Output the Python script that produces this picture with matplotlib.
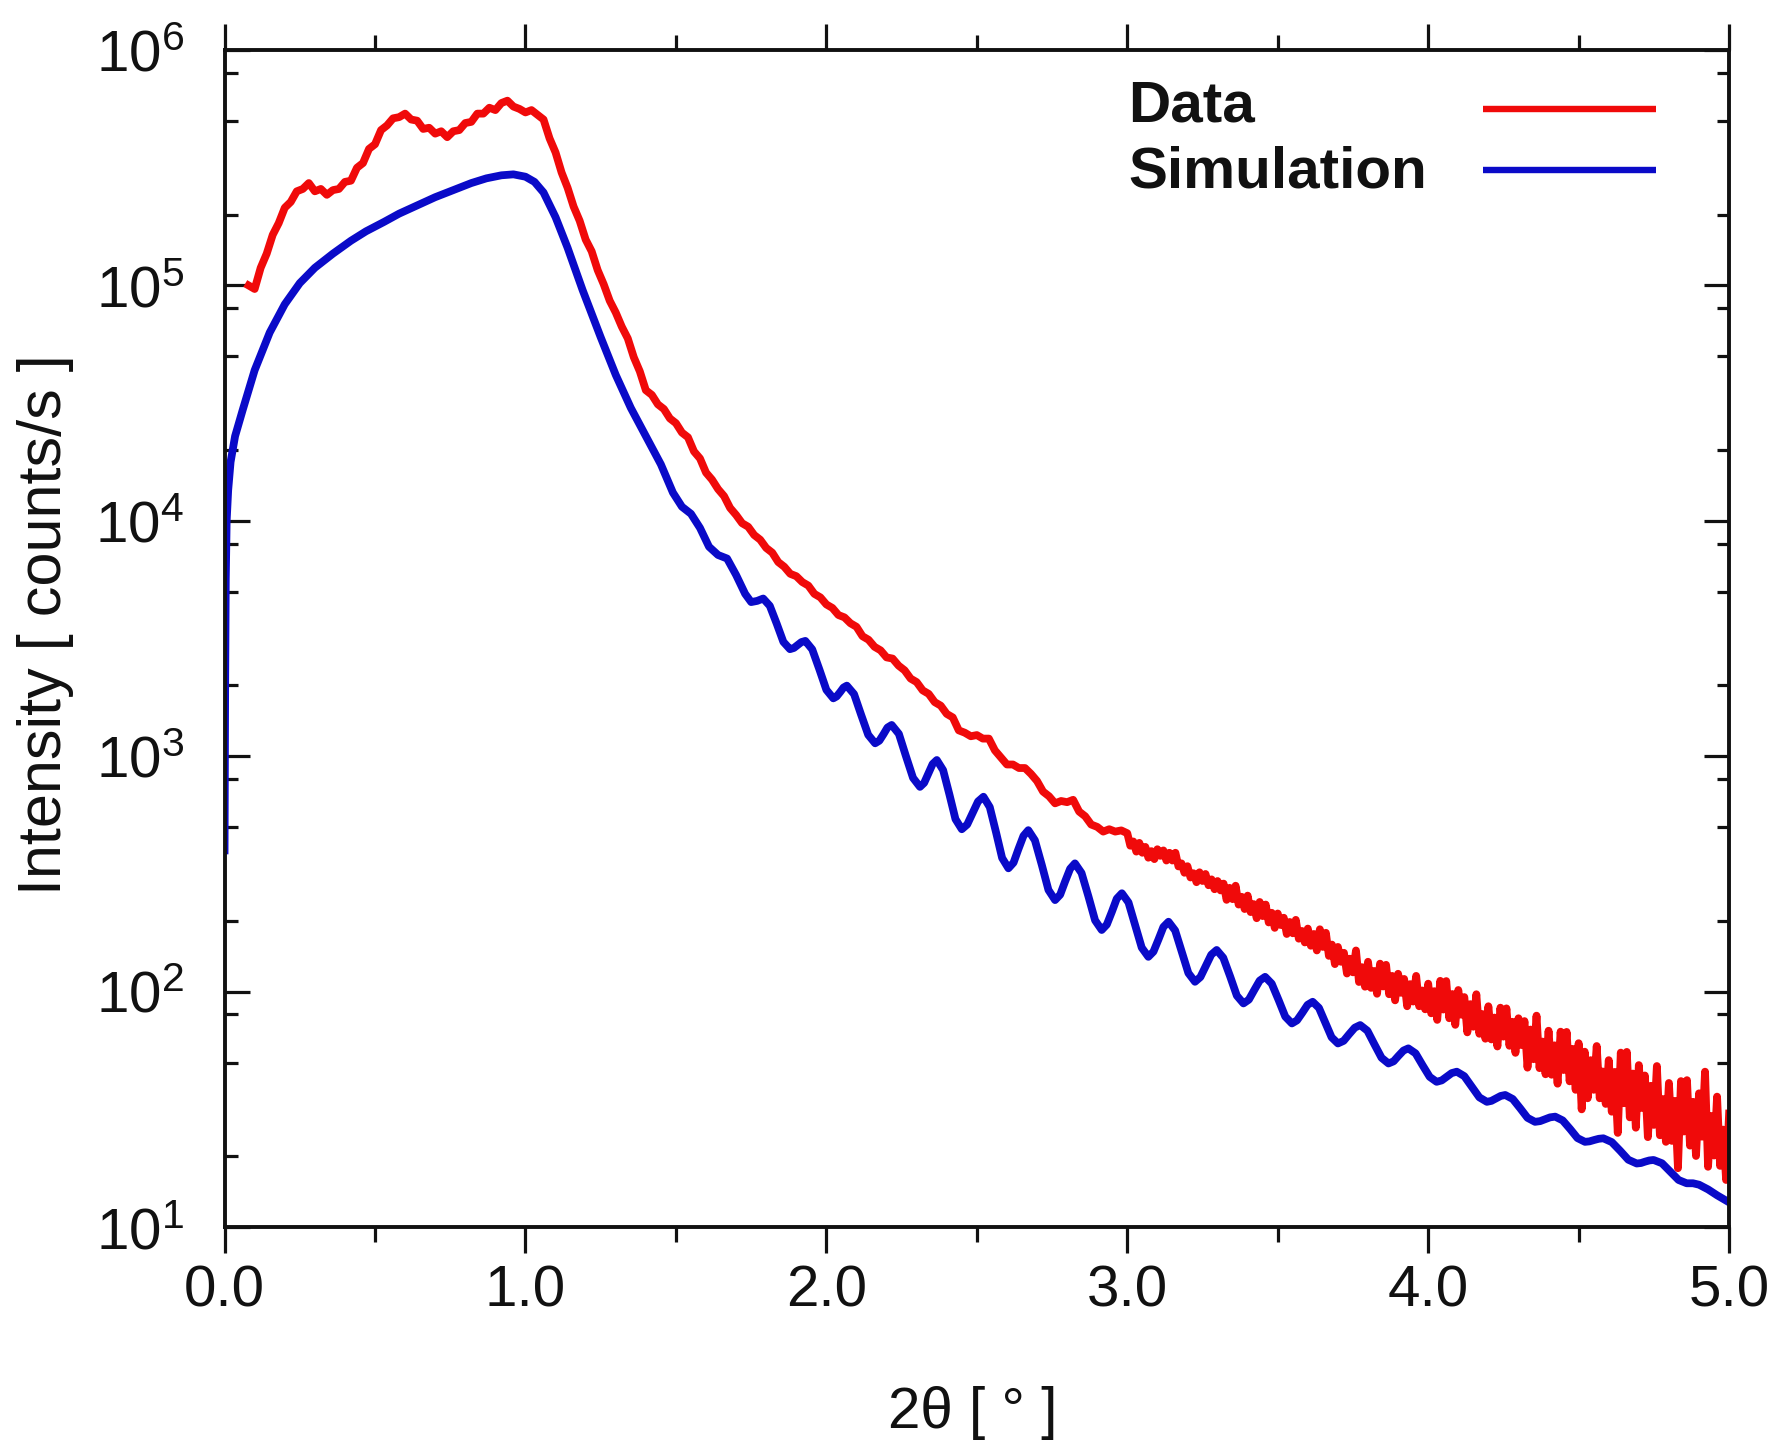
import numpy as np
import matplotlib
matplotlib.use("Agg")
import matplotlib.pyplot as plt
from matplotlib.ticker import FixedLocator, FixedFormatter, MultipleLocator, LogLocator, NullFormatter

plt.rcParams['font.family'] = ['Liberation Sans', 'DejaVu Sans']
plt.rcParams['mathtext.fontset'] = 'custom'
plt.rcParams['mathtext.rm'] = 'Liberation Sans'
plt.rcParams['mathtext.it'] = 'Liberation Sans:italic'
plt.rcParams['mathtext.bf'] = 'Liberation Sans:bold'

# ---------------- data ----------------
series_labels = ['Data', 'Simulation']
x_label = '2θ [ ° ]'
y_label = 'Intensity [ counts/s ]'
x_ticks = [0, 1, 2, 3, 4, 5]
x_tick_labels = ['0.0', '1.0', '2.0', '3.0', '4.0', '5.0']
y_ticks = [1e1, 1e2, 1e3, 1e4, 1e5, 1e6]
y_tick_labels = [r'$\mathregular{10^{1}}$', r'$\mathregular{10^{2}}$', r'$\mathregular{10^{3}}$',
                 r'$\mathregular{10^{4}}$', r'$\mathregular{10^{5}}$', r'$\mathregular{10^{6}}$']

# Simulation (blue), log10(counts/s)
sim_2theta = [
    0.000, 0.002, 0.004, 0.007, 0.012, 0.020, 0.035, 0.060, 0.100, 0.150,
    0.200, 0.250, 0.300, 0.360, 0.420, 0.470, 0.530, 0.580, 0.640, 0.700,
    0.760, 0.820, 0.870, 0.920, 0.960, 1.000, 1.030, 1.060, 1.100, 1.140,
    1.190, 1.250, 1.300, 1.350, 1.400, 1.450, 1.490, 1.520, 1.550, 1.580,
    1.610, 1.640, 1.670, 1.700, 1.730, 1.750, 1.770, 1.790,
    1.812, 1.835, 1.857, 1.879, 1.892, 1.905, 1.917, 1.930,
    1.953, 1.977, 2.000, 2.023, 2.034, 2.046, 2.057, 2.068,
    2.092, 2.115, 2.139, 2.162, 2.176, 2.190, 2.203, 2.217,
    2.241, 2.264, 2.288, 2.311, 2.325, 2.339, 2.353, 2.367,
    2.388, 2.409, 2.429, 2.450, 2.468, 2.486, 2.504, 2.522,
    2.543, 2.564, 2.584, 2.605, 2.622, 2.638, 2.655, 2.671,
    2.693, 2.716, 2.738, 2.760, 2.777, 2.793, 2.810, 2.826,
    2.848, 2.871, 2.893, 2.915, 2.932, 2.949, 2.965, 2.982,
    3.004, 3.026, 3.048, 3.070, 3.087, 3.104, 3.120, 3.137,
    3.159, 3.181, 3.203, 3.225, 3.243, 3.261, 3.279, 3.297,
    3.319, 3.342, 3.364, 3.386, 3.404, 3.422, 3.440, 3.458,
    3.480, 3.503, 3.525, 3.547, 3.564, 3.582, 3.599, 3.616,
    3.637, 3.658, 3.679, 3.700, 3.719, 3.737, 3.756, 3.774,
    3.798, 3.821, 3.845, 3.868, 3.885, 3.901, 3.918, 3.934,
    3.958, 3.981, 4.005, 4.028, 4.045, 4.062, 4.078, 4.095,
    4.120, 4.145, 4.170, 4.195, 4.210, 4.226, 4.241, 4.256,
    4.281, 4.306, 4.330, 4.355, 4.372, 4.389, 4.405, 4.422,
    4.447, 4.472, 4.496, 4.521, 4.536, 4.552, 4.567, 4.582,
    4.610, 4.638, 4.665, 4.693, 4.707, 4.721, 4.735, 4.749,
    4.777, 4.804, 4.832, 4.859, 4.880, 4.900, 4.930, 4.960, 5.000]
sim_log10 = [
    2.60, 3.30, 3.75, 4.00, 4.13, 4.25, 4.36, 4.47, 4.64, 4.80,
    4.92, 5.01, 5.075, 5.135, 5.19, 5.23, 5.27, 5.305, 5.34, 5.375,
    5.405, 5.435, 5.455, 5.468, 5.472, 5.462, 5.44, 5.395, 5.29, 5.16,
    4.98, 4.78, 4.62, 4.48, 4.36, 4.24, 4.12, 4.06, 4.03, 3.97,
    3.89, 3.855, 3.84, 3.77, 3.69, 3.655, 3.66, 3.67,
    3.639, 3.563, 3.486, 3.455, 3.460, 3.473, 3.485, 3.490,
    3.454, 3.368, 3.282, 3.246, 3.254, 3.273, 3.292, 3.300,
    3.264, 3.178, 3.091, 3.055, 3.066, 3.094, 3.122, 3.133,
    3.095, 3.002, 2.908, 2.870, 2.887, 2.927, 2.967, 2.984,
    2.941, 2.837, 2.733, 2.690, 2.710, 2.759, 2.808, 2.828,
    2.784, 2.676, 2.568, 2.524, 2.548, 2.605, 2.662, 2.686,
    2.643, 2.538, 2.432, 2.389, 2.412, 2.467, 2.522, 2.545,
    2.504, 2.404, 2.303, 2.262, 2.285, 2.340, 2.395, 2.418,
    2.379, 2.283, 2.187, 2.148, 2.170, 2.223, 2.275, 2.297,
    2.260, 2.170, 2.079, 2.042, 2.062, 2.110, 2.157, 2.177,
    2.144, 2.064, 1.983, 1.950, 1.966, 2.007, 2.047, 2.063,
    2.034, 1.964, 1.894, 1.865, 1.878, 1.911, 1.944, 1.957,
    1.931, 1.869, 1.806, 1.780, 1.791, 1.819, 1.847, 1.858,
    1.834, 1.777, 1.719, 1.695, 1.704, 1.727, 1.750, 1.759,
    1.738, 1.688, 1.638, 1.617, 1.623, 1.639, 1.654, 1.660,
    1.641, 1.596, 1.551, 1.532, 1.536, 1.547, 1.557, 1.561,
    1.544, 1.504, 1.464, 1.447, 1.450, 1.458, 1.466, 1.469,
    1.453, 1.416, 1.378, 1.362, 1.364, 1.370, 1.375, 1.377,
    1.361, 1.324, 1.286, 1.270, 1.272, 1.278, 1.283, 1.285,
    1.271, 1.236, 1.200, 1.186, 1.186, 1.180, 1.160, 1.135, 1.105]

# Measured data (red), log10(counts/s); scan steps 0.02 deg up to 2.98, 0.01 deg beyond
data_2theta_coarse = np.round(np.arange(0.08, 2.9801, 0.02), 2)
data_log10_coarse = [
    5.00, 4.985, 5.075, 5.135, 5.215, 5.265, 5.33, 5.355, 5.40, 5.41,
    5.435, 5.40, 5.41, 5.385, 5.405, 5.41, 5.44, 5.445, 5.50, 5.52,
    5.58, 5.60, 5.66, 5.68, 5.71, 5.715, 5.73, 5.705, 5.70, 5.665,
    5.67, 5.645, 5.655, 5.63, 5.655, 5.66, 5.69, 5.695, 5.73, 5.73,
    5.755, 5.745, 5.775, 5.785, 5.76, 5.75, 5.735, 5.745, 5.725, 5.705,
    5.625, 5.565, 5.48, 5.415, 5.335, 5.275, 5.195, 5.145, 5.065, 5.005,
    4.935, 4.885, 4.825, 4.775, 4.695, 4.635, 4.555, 4.535, 4.495, 4.475,
    4.435, 4.415, 4.375, 4.355, 4.295, 4.265, 4.205, 4.175, 4.135, 4.105,
    4.055, 4.025, 3.99, 3.975, 3.94, 3.92, 3.885, 3.865, 3.825, 3.805,
    3.775, 3.765, 3.74, 3.725, 3.69, 3.675, 3.645, 3.63, 3.60, 3.59,
    3.565, 3.55, 3.51, 3.495, 3.465, 3.45, 3.42, 3.415, 3.385, 3.365,
    3.33, 3.315, 3.28, 3.265, 3.23, 3.215, 3.18, 3.165, 3.11, 3.10,
    3.085, 3.09, 3.075, 3.075, 3.025, 2.995, 2.965, 2.965, 2.95, 2.95,
    2.925, 2.895, 2.85, 2.83, 2.80, 2.81, 2.805, 2.815, 2.765, 2.745,
    2.71, 2.70, 2.68, 2.69, 2.68, 2.685]
data_2theta_fine = np.round(np.arange(3.00, 5.0001, 0.01), 2)
data_log10_fine = [
    2.673, 2.62, 2.638, 2.595, 2.632, 2.59, 2.615, 2.569, 2.597, 2.563,
    2.605, 2.577, 2.60, 2.557, 2.59, 2.557, 2.59, 2.532, 2.545, 2.505,
    2.533, 2.485, 2.503, 2.465, 2.507, 2.47, 2.50, 2.452, 2.477, 2.435,
    2.47, 2.43, 2.459, 2.39, 2.441, 2.393, 2.45, 2.37, 2.403, 2.351,
    2.408, 2.338, 2.372, 2.312, 2.381, 2.321, 2.37, 2.294, 2.335, 2.271,
    2.332, 2.283, 2.314, 2.245, 2.296, 2.248, 2.305, 2.225, 2.258, 2.209,
    2.268, 2.195, 2.245, 2.175, 2.265, 2.19, 2.25, 2.152, 2.20, 2.117,
    2.19, 2.127, 2.165, 2.077, 2.14, 2.082, 2.175, 2.041, 2.104, 2.021,
    2.127, 2.016, 2.088, 1.991, 2.119, 2.022, 2.114, 1.989, 2.067, 1.963,
    2.076, 1.995, 2.054, 1.938, 2.032, 1.958, 2.067, 1.938, 2.005, 1.925,
    2.034, 1.908, 2.002, 1.88, 2.046, 1.924, 2.045, 1.887, 1.99, 1.859,
    2.007, 1.902, 1.977, 1.827, 1.947, 1.851, 1.989, 1.821, 1.905, 1.80,
    1.938, 1.797, 1.89, 1.767, 1.932, 1.809, 1.929, 1.77, 1.872, 1.74,
    1.887, 1.773, 1.875, 1.677, 1.839, 1.713, 1.898, 1.675, 1.788, 1.649,
    1.834, 1.647, 1.772, 1.609, 1.83, 1.667, 1.829, 1.619, 1.757, 1.583,
    1.781, 1.50, 1.745, 1.547, 1.709, 1.583, 1.769, 1.547, 1.661, 1.523,
    1.709, 1.49, 1.659, 1.40, 1.741, 1.526, 1.744, 1.466, 1.652, 1.422,
    1.688, 1.506, 1.644, 1.382, 1.60, 1.434, 1.684, 1.39, 1.544, 1.362,
    1.612, 1.366, 1.536, 1.25, 1.62, 1.406, 1.624, 1.346, 1.532, 1.302,
    1.568, 1.384, 1.66, 1.256, 1.472, 1.304, 1.554, 1.26, 1.414, 1.20,
    1.482]

# ---------------- plot ----------------
RED = '#f00a0a'
BLUE = '#0a0ac8'
FS = 42
LW = 5.6

fig = plt.figure(figsize=(17.78, 14.47), dpi=100)
ax = fig.add_axes([0.1263, 0.152, 0.8462, 0.8134])

data_x = np.concatenate([data_2theta_coarse, data_2theta_fine])
data_y = 10 ** np.concatenate([data_log10_coarse, data_log10_fine])
sim_y = 10 ** np.array(sim_log10)

ax.plot(sim_2theta, sim_y, color=BLUE, lw=LW, solid_joinstyle='round', zorder=3)
ax.plot(data_x, data_y, color=RED, lw=LW, solid_joinstyle='round', zorder=4)

ax.set_yscale('log')
ax.set_xlim(0, 5)
ax.set_ylim(10, 1e6)

ax.xaxis.set_major_locator(FixedLocator(x_ticks))
ax.xaxis.set_major_formatter(FixedFormatter(x_tick_labels))
ax.xaxis.set_minor_locator(MultipleLocator(0.5))
ax.yaxis.set_major_locator(FixedLocator(y_ticks))
ax.yaxis.set_major_formatter(FixedFormatter(y_tick_labels))
ax.yaxis.set_minor_locator(LogLocator(base=10, subs=[2, 5, 8]))
ax.yaxis.set_minor_formatter(NullFormatter())

for s in ax.spines.values():
    s.set_linewidth(2.8)
    s.set_color('#111111')
    s.set_zorder(5)

ax.tick_params(axis='x', which='both', direction='out', top=True, bottom=True,
               labelsize=FS, colors='#111111', width=2.3, pad=8)
ax.tick_params(axis='x', which='major', length=19)
ax.tick_params(axis='x', which='minor', length=11)
ax.tick_params(axis='y', which='both', direction='in', left=True, right=True,
               labelsize=FS, colors='#111111', width=2.3, pad=29)
ax.tick_params(axis='y', which='major', length=18)
ax.tick_params(axis='y', which='minor', length=9)

ax.set_xlabel(x_label, fontsize=FS, color='#111111')
ax.xaxis.set_label_coords(0.4975, -0.135)
ax.set_ylabel(y_label, fontsize=44, color='#111111')
ax.yaxis.set_label_coords(-0.100, 0.512)

# legend (text left-aligned, line samples on the right)
legend_colors = [RED, BLUE]
legend_text_y = [0.9397, 0.8836]
legend_line_y = [0.9499, 0.8980]
for lab, col, ty, ly in zip(series_labels, legend_colors, legend_text_y, legend_line_y):
    ax.text(0.6005, ty, lab, transform=ax.transAxes, fontsize=FS, fontweight='bold',
            ha='left', va='baseline', color='#111111')
    ax.plot([0.8365, 0.9515], [ly, ly], transform=ax.transAxes, color=col, lw=4.6,
            solid_capstyle='butt')

fig.savefig('out.png', dpi=100)
